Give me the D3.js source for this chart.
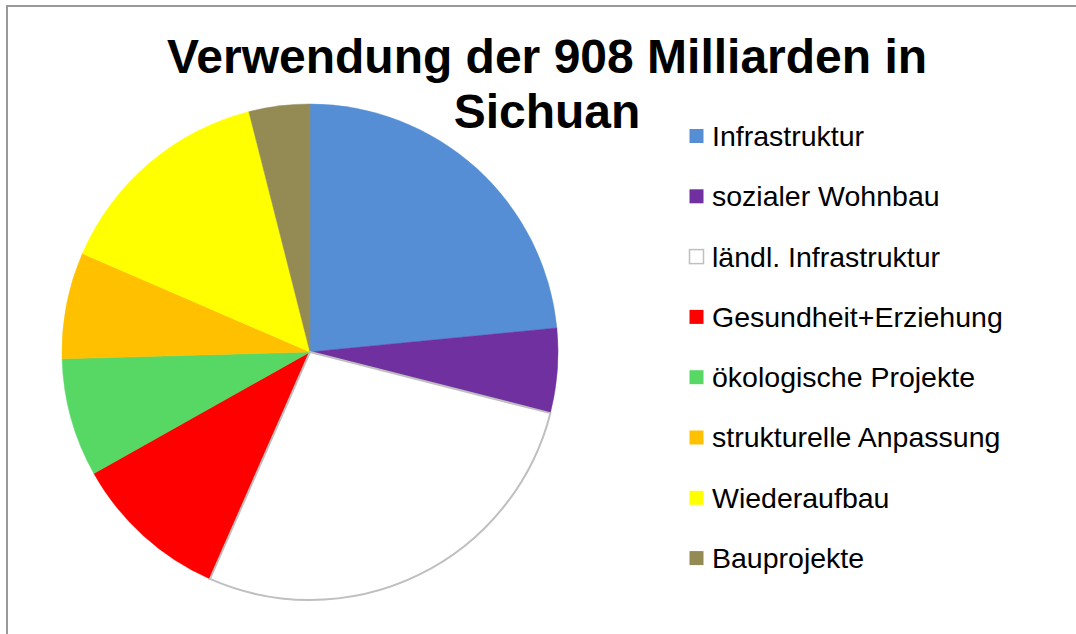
<!DOCTYPE html>
<html lang="de">
<head>
<meta charset="UTF-8">
<title>Verwendung der 908 Milliarden in Sichuan</title>
<script src="https://d3js.org/d3.v7.min.js"></script>
<style>
  body { margin: 0; background: #fff; }
  text { font-family: "Liberation Sans", Arial, sans-serif; }
</style>
</head>
<body>
<svg width="1076" height="634"></svg>
<script>
// Anteile in Milliarden Yuan (aus dem Bild geschätzt, Summe 908)
const categories = ["Infrastruktur", "sozialer Wohnbau", "ländl. Infrastruktur", "Gesundheit+Erziehung",
                    "ökologische Projekte", "strukturelle Anpassung", "Wiederaufbau", "Bauprojekte"];
const values = [213, 50, 251, 93, 70, 63, 132, 36];
const colors = ["#558ed5", "#7030a0", "#ffffff", "#ff0000", "#57d865", "#ffc000", "#ffff00", "#948a54"];
const titleLines = ["Verwendung der 908 Milliarden in", "Sichuan"];

const svg = d3.select("svg");
const width = +svg.attr("width"), height = +svg.attr("height");

// Rahmen (nur oben und links sichtbar)
svg.append("path")
  .attr("d", `M7,${height} V6 H${width}`)
  .attr("fill", "none")
  .attr("stroke", "#999")
  .attr("stroke-width", 2);

const cx = 310, cy = 352, radius = 248;

const pie = d3.pie().sort(null).value(d => d);
const arc = d3.arc().innerRadius(0).outerRadius(radius);
const color = d3.scaleOrdinal().domain(categories).range(colors);

const g = svg.append("g").attr("transform", `translate(${cx},${cy})`);
const arcs = pie(values);

g.selectAll("path.slice")
  .data(arcs)
  .join("path")
  .attr("class", "slice")
  .attr("d", arc)
  .attr("fill", (d, i) => color(categories[i]))
  .attr("stroke", (d, i) => colors[i] === "#ffffff" ? "#bfbfbf" : color(categories[i]))
  .attr("stroke-width", (d, i) => colors[i] === "#ffffff" ? 2 : 0.5);

// weißes Segment nach vorn, damit der Rand sichtbar bleibt
g.selectAll("path.slice").filter((d, i) => colors[i] === "#ffffff").raise();

// Titel
svg.append("g")
  .selectAll("text")
  .data(titleLines)
  .join("text")
  .attr("x", 547)
  .attr("y", (d, i) => 73 + i * 55)
  .attr("text-anchor", "middle")
  .attr("font-size", "48px")
  .attr("font-weight", "bold")
  .attr("fill", "#000")
  .text(d => d);

// Legende
const legend = svg.append("g").attr("transform", "translate(689,136)");
const rowH = 60.3;
const item = legend.selectAll("g")
  .data(categories)
  .join("g")
  .attr("transform", (d, i) => `translate(0,${i * rowH})`);

item.append("rect")
  .attr("x", 0.5)
  .attr("y", -7)
  .attr("width", 14)
  .attr("height", 14)
  .attr("fill", d => color(d))
  .attr("stroke", d => color(d) === "#ffffff" ? "#bfbfbf" : "none")
  .attr("stroke-width", 1.5);

item.append("text")
  .attr("x", 23)
  .attr("y", 0)
  .attr("dy", "0.35em")
  .attr("font-size", "28.5px")
  .attr("fill", "#000")
  .text(d => d);
</script>
</body>
</html>
